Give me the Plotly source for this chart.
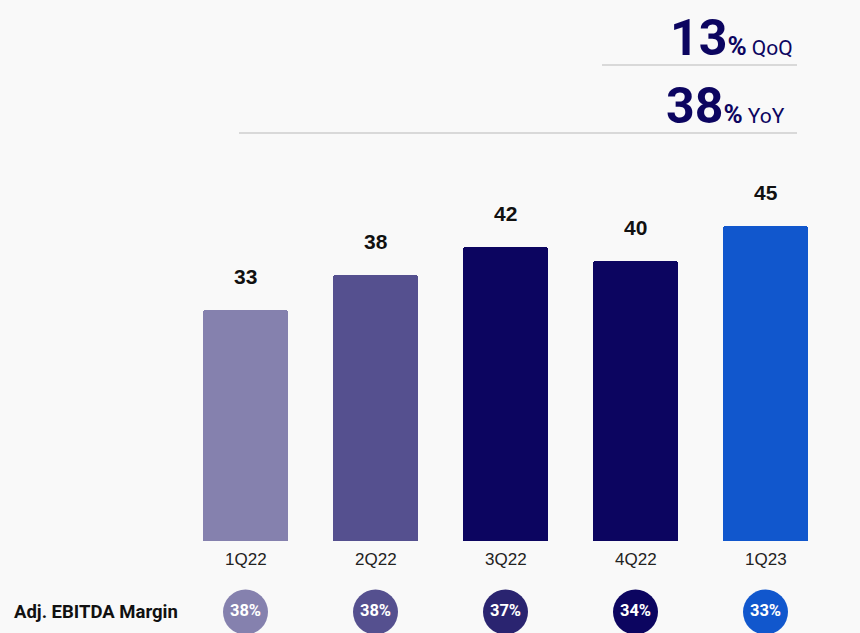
import plotly.graph_objects as go

# Quarterly values
quarters = ["1Q22", "2Q22", "3Q22", "4Q22", "1Q23"]
values = [33, 38, 42, 40, 45]
margins = ["38%", "38%", "37%", "34%", "33%"]
bar_colors = ["#8581ae", "#55508f", "#0c0560", "#0c0560", "#1157cd"]
circle_colors = ["#8581ae", "#55508f", "#2a2470", "#0c0560", "#1157cd"]
qoq_growth = "13"
yoy_growth = "38"

W, H = 860, 633
BG = "#f9f9f9"
NAVY = "#0c0560"

xs = list(range(len(quarters)))
circle_y = -10.15

fig = go.Figure()

fig.add_trace(go.Bar(
    x=xs, y=values, width=0.654,
    marker=dict(color=bar_colors, line=dict(width=0), cornerradius=3),
    hoverinfo="skip", showlegend=False,
))

fig.add_trace(go.Scatter(
    x=xs, y=[circle_y] * len(xs), mode="markers+text",
    marker=dict(size=45, color=circle_colors, line=dict(width=0)),
    text=[f"<b>{m}</b>" for m in margins], textposition="middle center",
    textfont=dict(family="Roboto", size=16.5, color="white"),
    hoverinfo="skip", showlegend=False, cliponaxis=False,
))

annotations = []
for x, v, q in zip(xs, values, quarters):
    annotations.append(dict(
        x=x, y=v, xref="x", yref="y", text=f"<b>{v}</b>", showarrow=False,
        yshift=34, yanchor="middle",
        font=dict(family="Liberation Sans", size=21, color="#111111",
                  shadow="0px 0px 2px white"),
    ))
    annotations.append(dict(
        x=x, y=0, xref="x", yref="y", text=q, showarrow=False,
        yshift=-18, yanchor="middle",
        font=dict(family="Liberation Sans", size=17, color="#222222"),
    ))

annotations.append(dict(
    x=12 / W, y=1 - 612 / H, xref="paper", yref="paper", xanchor="left", yanchor="middle",
    text="<b>Adj. EBITDA Margin</b>", showarrow=False,
    font=dict(family="Roboto", size=18.5, color="#111111"),
))

for growth, label, base_y, right_x in [(qoq_growth, "QoQ", 59, 795), (yoy_growth, "YoY", 127, 787)]:
    annotations.append(dict(
        x=right_x / W, y=1 - base_y / H, xref="paper", yref="paper",
        xanchor="right", yanchor="bottom",
        text=(f"<b>{growth}</b><span style='font-size:26px'><b>%</b></span>"
              f"<span style='font-size:21px'> {label}</span>"),
        showarrow=False,
        font=dict(family="Roboto", size=50, color=NAVY),
        yshift=-10,
    ))

shapes = [
    dict(type="line", xref="paper", yref="paper", x0=602 / W, x1=797 / W,
         y0=1 - 65 / H, y1=1 - 65 / H, line=dict(color="#d9d9d9", width=2)),
    dict(type="line", xref="paper", yref="paper", x0=239 / W, x1=797 / W,
         y0=1 - 133 / H, y1=1 - 133 / H, line=dict(color="#d9d9d9", width=2)),
]

px_per_unit_x = 130
x0 = -245.5 / px_per_unit_x
x1 = x0 + W / px_per_unit_x
px_per_unit_y = 7
y1 = 541 / px_per_unit_y
y0 = y1 - H / px_per_unit_y

fig.update_layout(
    width=W, height=H,
    margin=dict(l=0, r=0, t=0, b=0),
    paper_bgcolor=BG, plot_bgcolor=BG,
    xaxis=dict(range=[x0, x1], visible=False, fixedrange=True),
    yaxis=dict(range=[y0, y1], visible=False, fixedrange=True),
    annotations=annotations, shapes=shapes,
    bargap=0,
)

fig.write_html("out.html", config={"displayModeBar": False})
